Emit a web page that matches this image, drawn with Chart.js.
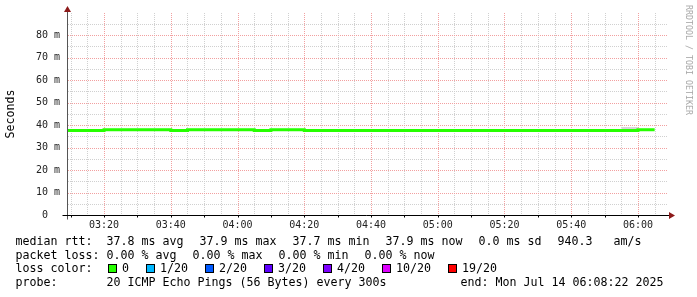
<!DOCTYPE html>
<html>
<head>
<meta charset="utf-8">
<script src="https://cdn.jsdelivr.net/npm/chart.js@4/dist/chart.umd.min.js"></script>
<style>
    body { margin: 0; background: #fff; }
    #wrap { position: relative; width: 697px; height: 297px; overflow: hidden; }
    #chart { position: absolute; left: 0; top: 0; }
    .row { position: absolute; left: 15.5px; font-family: "DejaVu Sans Mono", monospace; font-size: 11.63px; line-height: 13.7px; white-space: pre; color: #000; }
    .piece { display: inline-block; margin-right: 2px; }
    .sq { display: inline-block; width: 7px; height: 7px; border: 1px solid #000; vertical-align: -1px; margin-right: 5px; }
    .item { display: inline-block; margin-right: 17px; }
    #endText { position: absolute; right: 17px; top: 0; }
    #credit { position: absolute; left: 693px; top: 5px; transform-origin: left top; transform: rotate(90deg); font-family: "DejaVu Sans Mono", monospace; font-size: 8.3px; line-height: 9px; color: #a8a8a8; white-space: pre; }
</style>
</head>
<body>
<div id="wrap">
    <canvas id="chart" width="697" height="297"></canvas>
    <div class="row" id="row1" style="top:235px"></div>
    <div class="row" id="row2" style="top:248.5px"></div>
    <div class="row" id="row3" style="top:262px"></div>
    <div class="row" id="row4" style="top:276px; width:665px"></div>
    <div id="credit">RRDTOOL / TOBI OETIKER</div>
</div>
<script>
// median rtt, one value per 5 minute step (ms)
var times = ['03:05', '03:10', '03:15', '03:20', '03:25', '03:30', '03:35', '03:40', '03:45', '03:50',
             '03:55', '04:00', '04:05', '04:10', '04:15', '04:20', '04:25', '04:30', '04:35', '04:40',
             '04:45', '04:50', '04:55', '05:00', '05:05', '05:10', '05:15', '05:20', '05:25', '05:30',
             '05:35', '05:40', '05:45', '05:50', '05:55', '06:00', '06:05'];
var medianRtt = [37.6, 37.6, 37.6, 37.95, 37.95, 37.95, 37.95, 37.6, 37.95, 37.95,
                 37.95, 37.95, 37.6, 37.95, 37.95, 37.6, 37.6, 37.6, 37.6, 37.6,
                 37.6, 37.6, 37.6, 37.6, 37.6, 37.6, 37.6, 37.6, 37.6, 37.6,
                 37.6, 37.6, 37.6, 37.6, 37.6, 37.9, 37.9];

// smoke (spread of the pings)
var smokeTimes = ['05:55', '06:00'];
var smokeLow = [38.2, 38.2];
var smokeHigh = [39.1, 39.1];

var xStart = '03:08.9';
var xEnd = '06:09.0';
var yMax = 89.8;

var rttStats = ['37.8 ms avg', '37.9 ms max', '37.7 ms min', '37.9 ms now', '0.0 ms sd'];
var rttAmps = '940.3   am/s';
var lossStats = ['0.00 % avg', '0.00 % max', '0.00 % min', '0.00 % now'];
var lossLabels = ['0', '1/20', '2/20', '3/20', '4/20', '10/20', '19/20'];
var lossColors = ['#26ff00', '#00b8ff', '#0059ff', '#5e00ff', '#7e00ff', '#dd00ff', '#ff0000'];
var probeText = '20 ICMP Echo Pings (56 Bytes) every 300s';
var endText = 'end: Mon Jul 14 06:08:22 2025';

function toMin(t) {
    var p = t.split(':');
    return parseInt(p[0], 10) * 60 + parseFloat(p[1]);
}

function pad2(n) {
    return (n < 10 ? '0' : '') + n;
}

function points(ts, vals) {
    return ts.map(function (t, i) { return { x: toMin(t), y: vals[i] }; });
}

var MAJOR = 'rgb(242,160,160)';
var MINOR = 'rgb(208,208,208)';

function isMajor(v, step) {
    return Math.abs(Math.round(v) % step) === 0 && Math.abs(v - Math.round(v)) < 1e-6;
}

// dotted rrdtool style grid, drawn from the scale ticks
var rrdGrid = {
    id: 'rrdGrid',
    beforeDatasetsDraw: function (chart) {
        var ctx = chart.ctx;
        var a = chart.chartArea;
        var xs = chart.scales.x;
        var ys = chart.scales.y;
        var top = Math.round(a.top), bottom = Math.round(a.bottom);
        var left = Math.round(a.left), right = Math.round(a.right);
        ctx.save();
        xs.ticks.forEach(function (t) {
            var px = Math.round(xs.getPixelForValue(t.value));
            if (px <= left) return;
            ctx.fillStyle = isMajor(t.value, 20) ? MAJOR : MINOR;
            for (var y = top; y < bottom; y += 2) ctx.fillRect(px, y, 1, 1);
        });
        ys.ticks.forEach(function (t) {
            var py = Math.round(ys.getPixelForValue(t.value));
            if (py >= bottom) return;
            ctx.fillStyle = isMajor(t.value, 10) ? MAJOR : MINOR;
            for (var x = left + 1; x < right; x += 2) ctx.fillRect(x, py, 1, 1);
        });
        ctx.restore();
    }
};

var axisArrows = {
    id: 'axisArrows',
    afterDraw: function (chart) {
        var ctx = chart.ctx;
        var a = chart.chartArea;
        var xs = chart.scales.x;
        var x0 = Math.round(a.left) + 0.5;
        var y0 = Math.round(a.bottom) + 0.5;
        ctx.save();
        ctx.lineWidth = 1;
        // y axis
        ctx.strokeStyle = '#555';
        ctx.beginPath();
        ctx.moveTo(x0, y0 + 4);
        ctx.lineTo(x0, a.top - 4);
        ctx.stroke();
        // x axis
        ctx.strokeStyle = '#000';
        ctx.beginPath();
        ctx.moveTo(x0 - 5, y0);
        ctx.lineTo(a.right + 2, y0);
        ctx.stroke();
        // small ticks every 10 minutes
        for (var m = Math.ceil(xs.min / 10) * 10; m <= xs.max; m += 10) {
            var px = Math.round(xs.getPixelForValue(m)) + 0.5;
            ctx.beginPath();
            ctx.moveTo(px, y0);
            ctx.lineTo(px, y0 + 2);
            ctx.stroke();
        }
        // arrows
        ctx.fillStyle = '#8c1a1a';
        ctx.beginPath();
        ctx.moveTo(a.right + 1, y0 - 3.5);
        ctx.lineTo(a.right + 7, y0);
        ctx.lineTo(a.right + 1, y0 + 3.5);
        ctx.closePath();
        ctx.fill();
        ctx.beginPath();
        ctx.moveTo(x0 - 3.5, a.top - 1);
        ctx.lineTo(x0, a.top - 7);
        ctx.lineTo(x0 + 3.5, a.top - 1);
        ctx.closePath();
        ctx.fill();
        ctx.restore();
    }
};

var chart = new Chart(document.getElementById('chart'), {
    type: 'line',
    data: {
        datasets: [{
            label: 'median rtt',
            data: points(times, medianRtt),
            borderColor: '#26ff00',
            borderWidth: 3,
            borderCapStyle: 'butt',
            stepped: true,
            pointRadius: 0,
            fill: false,
            clip: 0
        }, {
            label: 'smoke low',
            data: points(smokeTimes, smokeLow),
            borderWidth: 0,
            borderColor: 'rgba(0,0,0,0)',
            stepped: true,
            pointRadius: 0,
            fill: false
        }, {
            label: 'smoke high',
            data: points(smokeTimes, smokeHigh),
            borderWidth: 0,
            borderColor: 'rgba(0,0,0,0)',
            backgroundColor: '#d6d6d6',
            stepped: true,
            pointRadius: 0,
            fill: '-1'
        }]
    },
    options: {
        responsive: false,
        animation: false,
        events: [],
        layout: { padding: { top: 13, right: 29, left: 0, bottom: 0 } },
        plugins: {
            legend: { display: false },
            tooltip: { enabled: false }
        },
        scales: {
            x: {
                type: 'linear',
                min: toMin(xStart),
                max: toMin(xEnd),
                afterFit: function (scale) { scale.height = 82; },
                grid: { display: false, drawTicks: false },
                border: { display: false },
                ticks: {
                    stepSize: 5,
                    includeBounds: false,
                    autoSkip: false,
                    maxRotation: 0,
                    padding: 4,
                    color: '#222',
                    font: { family: 'DejaVu Sans Mono', size: 10 },
                    callback: function (v) {
                        if (!isMajor(v, 20)) return '';
                        v = Math.round(v);
                        return pad2(Math.floor(v / 60)) + ':' + pad2(v % 60);
                    }
                }
            },
            y: {
                min: 0,
                max: yMax,
                afterFit: function (scale) { scale.width = 67; },
                grid: { display: false, drawTicks: false },
                border: { display: false },
                title: {
                    display: true,
                    text: 'Seconds',
                    color: '#000',
                    padding: { top: 4, bottom: 0 },
                    font: { family: 'DejaVu Sans Mono', size: 11.6 }
                },
                ticks: {
                    stepSize: 5,
                    includeBounds: false,
                    autoSkip: false,
                    padding: 7,
                    color: '#222',
                    font: { family: 'DejaVu Sans Mono', size: 10 },
                    callback: function (v) {
                        if (!isMajor(v, 10)) return '';
                        return v === 0 ? '0  ' : Math.round(v) + ' m';
                    }
                }
            }
        }
    },
    plugins: [rrdGrid, axisArrows]
});

function span(cls, text) {
    var s = document.createElement('span');
    s.className = cls;
    s.textContent = text;
    return s;
}

var row1 = document.getElementById('row1');
row1.appendChild(document.createTextNode('median rtt:  '));
rttStats.forEach(function (t) { row1.appendChild(span('piece', t + '  ')); });
row1.appendChild(span('piece', rttAmps));

var row2 = document.getElementById('row2');
row2.appendChild(document.createTextNode('packet loss: '));
lossStats.forEach(function (t) { row2.appendChild(span('piece', t + '  ')); });

var row3 = document.getElementById('row3');
row3.appendChild(document.createTextNode('loss color:  '));
lossLabels.forEach(function (t, i) {
    var item = span('item', '');
    var sq = span('sq', '');
    sq.style.background = lossColors[i];
    item.appendChild(sq);
    item.appendChild(document.createTextNode(t));
    row3.appendChild(item);
});
row3.firstChild.nextSibling.style.marginLeft = '1.5px';

var row4 = document.getElementById('row4');
row4.appendChild(document.createTextNode('probe:       ' + probeText));
row4.appendChild(span('', endText)).id = 'endText';
</script>
</body>
</html>
